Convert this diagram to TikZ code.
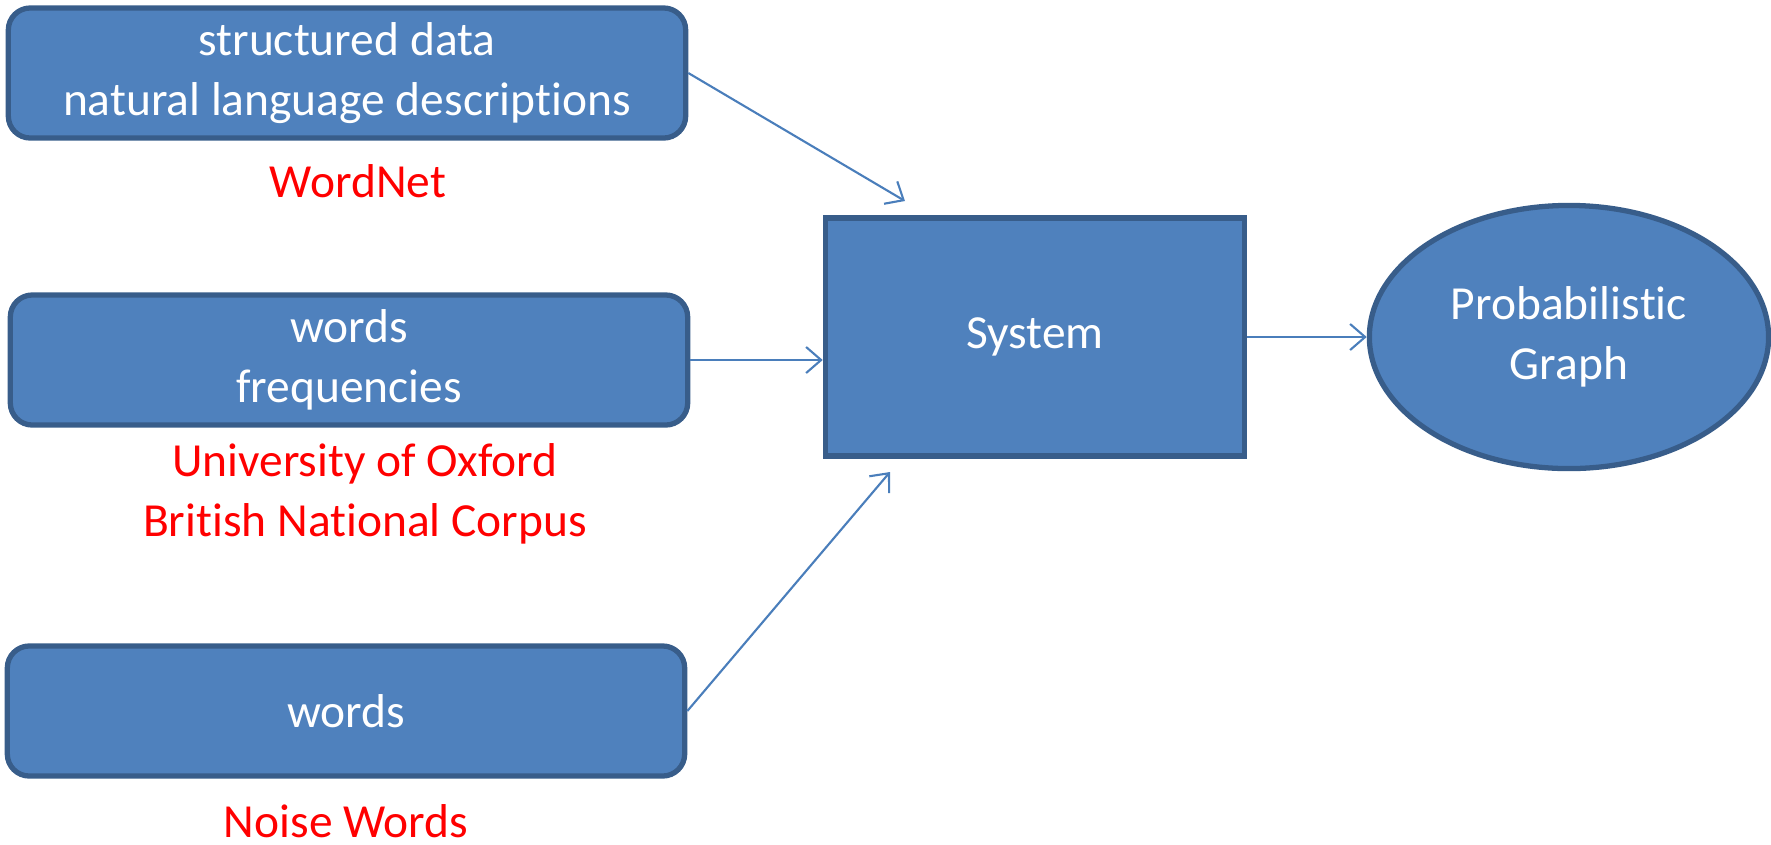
\documentclass[tikz,border=0pt]{standalone}
\usepackage{fontspec}
\setmainfont{Carlito}[Ligatures=NoCommon]
\usetikzlibrary{arrows.meta,shapes.geometric}
\definecolor{boxblue}{RGB}{79,129,189}
\definecolor{boxline}{RGB}{56,93,138}
\definecolor{linkblue}{RGB}{74,126,187}

\begin{document}
\begin{tikzpicture}[x=0.01cm,y=-0.01cm]
\tikzset{source/.style = {shape=rectangle,rounded corners=0.22cm,draw=boxline,fill=boxblue,line width=1.5pt,minimum width=6.77cm,minimum height=1.3cm,text=white,align=center,font=\fontsize{13.5}{17}\selectfont}}
\tikzset{origin/.style = {text=red,align=center,font=\fontsize{13.5}{17}\selectfont}}
\tikzset{edge/.style = {draw=linkblue,line width=0.6pt,-{Straight Barb[length=0.15cm,width=0.26cm]}}}
\useasboundingbox (0,0) rectangle (1771,844);
% inputs
\node[source] (wn) at (347,73) {structured data\\natural language descrip\kern0pt tions};
\node[source] (bnc) at (349,360) {words\\frequencies};
\node[source] (noise) at (346,711) {words};
% sources
\node[origin] (wnlab) at (358,181) {WordNet};
\node[origin] (bnclab) at (365,494) {University of Oxford\\British National Corpus};
\node[origin] (noiselab) at (346,821) {Noise Words};
% system and output
\node[shape=rectangle,draw=boxline,fill=boxblue,line width=1.5pt,minimum width=4.19cm,minimum height=2.38cm,text=white,font=\fontsize{13.5}{17}\selectfont] (sys) at (1035,337) {System};
\node[shape=ellipse,draw=boxline,fill=boxblue,line width=1.5pt,minimum width=3.99cm,minimum height=2.63cm,inner sep=0pt,text=white,align=center,font=\fontsize{13.5}{17}\selectfont] (graph) at (1569,337) {Probabilis\kern0pt tic\\Graph};
\coordinate (in1) at (905,201);
\coordinate (in3) at (890,472);
%edges
\draw[edge] (wn.east) to (in1);
\draw[edge] (bnc.east) to (bnc.east -| sys.west);
\draw[edge] (noise.east) to (in3);
\draw[edge] (sys) to (graph);
\end{tikzpicture}
\end{document}
